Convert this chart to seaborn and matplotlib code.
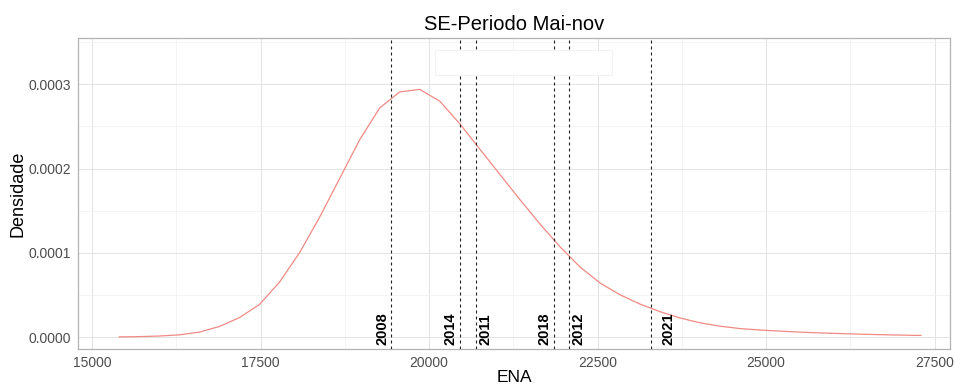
import matplotlib
matplotlib.use("Agg")
import matplotlib.pyplot as plt
import matplotlib.transforms as mtransforms
from matplotlib.patches import Rectangle
from matplotlib.ticker import MultipleLocator, FuncFormatter
import seaborn as sns
import pandas as pd

# Estimated density of ENA (SE subsystem, May-November)
ena = [15400, 15698, 15995, 16292, 16590, 16888, 17185, 17482, 17780, 18078,
       18375, 18672, 18970, 19268, 19565, 19862, 20160, 20458, 20755, 21052,
       21350, 21648, 21945, 22242, 22540, 22838, 23135, 23432, 23730, 24028,
       24325, 24622, 24920, 25218, 25515, 25812, 26110, 26408, 26705, 27002,
       27300]
densidade = [0.0000002, 0.0000005, 0.0000012, 0.0000026, 0.0000058, 0.0000125,
             0.0000230, 0.0000385, 0.0000650, 0.0001000, 0.0001420, 0.0001880,
             0.0002340, 0.0002720, 0.0002910, 0.0002940, 0.0002800, 0.0002530,
             0.0002230, 0.0001930, 0.0001630, 0.0001340, 0.0001070, 0.0000830,
             0.0000640, 0.0000500, 0.0000390, 0.0000300, 0.0000225, 0.0000168,
             0.0000128, 0.0000100, 0.0000083, 0.0000070, 0.0000058, 0.0000049,
             0.0000041, 0.0000034, 0.0000028, 0.0000023, 0.0000019]

# ENA observed in selected years
anos = ["2008", "2014", "2011", "2018", "2012", "2021"]
ena_anos = [19436, 20460, 20697, 21855, 22077, 23294]

# horizontal shift of each year label relative to its line (points)
label_shift = [-6.3, -7.0, 7.0, -6.6, 6.6, 12.5]

df = pd.DataFrame({"ENA": ena, "Densidade": densidade})

sns.set_theme(style="whitegrid")
plt.rcParams["font.family"] = ["Liberation Sans", "DejaVu Sans"]

fig, ax = plt.subplots(figsize=(9.55, 3.89), dpi=100)
fig.subplots_adjust(left=0.0817, right=0.9948, top=0.9023, bottom=0.1028)
ax.set_facecolor("white")

sns.lineplot(data=df, x="ENA", y="Densidade", ax=ax, color="#F08A84",
             linewidth=0.9, zorder=3)

for ano, xv, dx in zip(anos, ena_anos, label_shift):
    ax.axvline(xv, color="#222222", linestyle=(0, (2.7, 2.7)), linewidth=0.8,
               zorder=4)
    trans = mtransforms.offset_copy(ax.transData, fig=fig, x=dx, y=0,
                                    units="points")
    ax.text(xv, -0.0000095, ano, transform=trans, rotation=90,
            rotation_mode="anchor", ha="left", va="center",
            fontsize=10.5, fontweight="bold", color="black", zorder=5)

# blank legend-like box near the top of the panel
ax.add_patch(Rectangle((0.409, 0.881), 0.203, 0.080, transform=ax.transAxes,
                       facecolor="white", edgecolor="#F2F2F2", linewidth=0.8,
                       zorder=6))

ax.set_xlim(14792, 27730)
ax.set_ylim(-0.0000142, 0.000355)
ax.xaxis.set_major_locator(MultipleLocator(2500))
ax.xaxis.set_minor_locator(MultipleLocator(1250))
ax.yaxis.set_major_locator(MultipleLocator(0.0001))
ax.yaxis.set_minor_locator(MultipleLocator(0.00005))
ax.xaxis.set_major_formatter(FuncFormatter(lambda v, p: f"{v:.0f}"))
ax.yaxis.set_major_formatter(FuncFormatter(lambda v, p: f"{v:.4f}"))

ax.grid(which="major", color="#E3E3E3", linewidth=0.7)
ax.grid(which="minor", color="#F0F0F0", linewidth=0.5)
ax.set_axisbelow(True)

for sp in ax.spines.values():
    sp.set_visible(True)
    sp.set_color("#B3B3B3")
    sp.set_linewidth(0.9)

ax.tick_params(axis="both", which="major", length=3.2, width=0.7,
               color="#B3B3B3", labelsize=10, labelcolor="#4D4D4D", pad=2)
ax.tick_params(axis="both", which="minor", length=0)

ax.set_xlabel("ENA", fontsize=12.5, color="black", labelpad=0)
ax.set_ylabel("Densidade", fontsize=13, color="black", labelpad=1)
ax.set_title("SE-Periodo Mai-nov", fontsize=14.5, color="black", pad=6)

fig.savefig("out.png", dpi=100)
